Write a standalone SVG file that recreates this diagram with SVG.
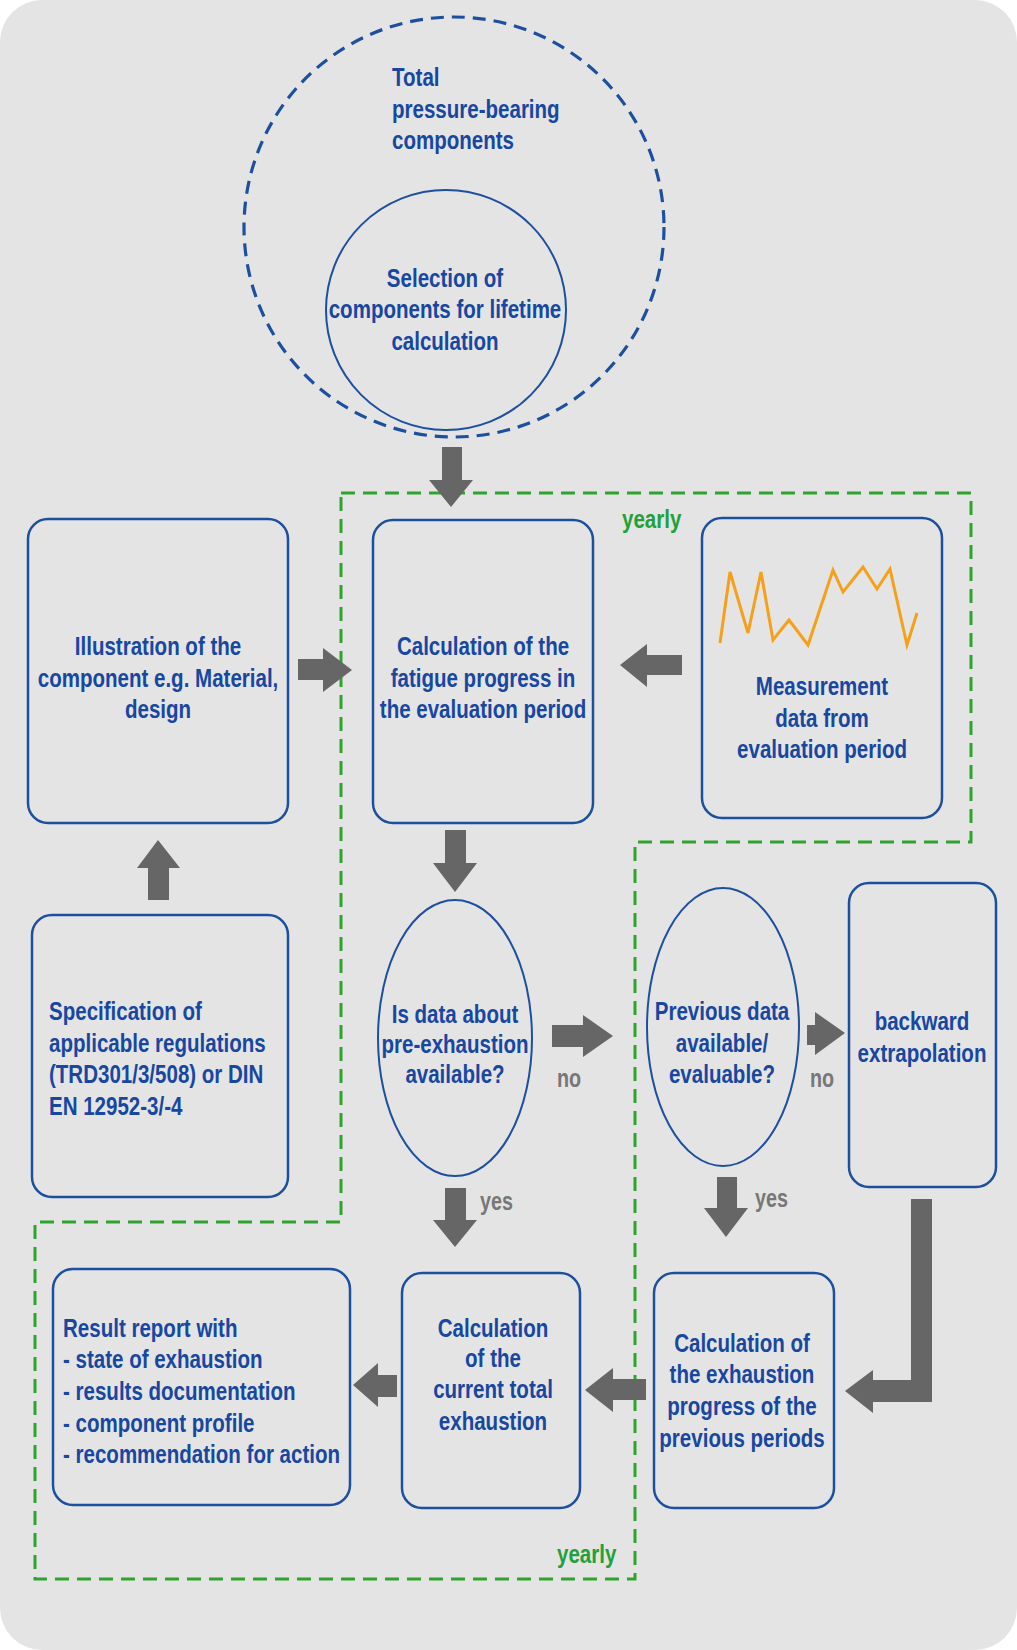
<svg xmlns="http://www.w3.org/2000/svg" width="1017" height="1650" viewBox="0 0 1017 1650">
<style>
.bg{fill:#e4e4e4}
.box{fill:none;stroke:#1d4f9f;stroke-width:2.5}
.ell{fill:none;stroke:#1d4f9f;stroke-width:2}
.t{font-family:"Liberation Sans",Arial,sans-serif;font-weight:bold;font-size:26px;fill:#1747a0}
.c{text-anchor:middle}
.lbl{font-family:"Liberation Sans",Arial,sans-serif;font-weight:bold;font-size:25px;fill:#777}
.yr{font-family:"Liberation Sans",Arial,sans-serif;font-weight:bold;font-size:26px;fill:#22a03a}
.arr{fill:#666}
</style>
<rect class="bg" x="0" y="0" width="1017" height="1650" rx="42"/>

<g id="yearly-loop">
<path d="M341,493 H971 V842 H635 V1579 H35 V1222 H341 Z" fill="none" stroke="#2ea32e" stroke-width="3" stroke-dasharray="14,8"/>
<text class="yr" transform="matrix(0.79 0 0 1 622 528)" x="0" y="0">yearly</text>
<text class="yr" transform="matrix(0.79 0 0 1 557 1563)" x="0" y="0">yearly</text>
</g>

<g id="total">
<circle cx="454" cy="227" r="210" fill="none" stroke="#1d4f9f" stroke-width="3.2" stroke-dasharray="13,8"/>
<text class="t" transform="matrix(0.79 0 0 1 392 0)"><tspan x="0" y="86">Total</tspan><tspan x="0" y="118">pressure-bearing</tspan><tspan x="0" y="149">components</tspan></text>
</g>

<g id="selection">
<circle class="ell" cx="446" cy="310" r="120"/>
<text class="t c" transform="matrix(0.79 0 0 1 445 0)"><tspan x="0" y="287">Selection of</tspan><tspan x="0" y="318">components for lifetime</tspan><tspan x="0" y="350">calculation</tspan></text>
</g>

<g id="illustration">
<rect class="box" x="28" y="519" width="260" height="304" rx="20"/>
<text class="t c" transform="matrix(0.79 0 0 1 158 0)"><tspan x="0" y="655">Illustration of the</tspan><tspan x="0" y="687">component e.g. Material,</tspan><tspan x="0" y="718">design</tspan></text>
</g>

<g id="calc-fatigue">
<rect class="box" x="373" y="520" width="220" height="303" rx="20"/>
<text class="t c" transform="matrix(0.79 0 0 1 483 0)"><tspan x="0" y="655">Calculation of the</tspan><tspan x="0" y="687">fatigue progress in</tspan><tspan x="0" y="718">the evaluation period</tspan></text>
</g>

<g id="measurement">
<rect class="box" x="702" y="518" width="240" height="300" rx="20"/>
<polyline points="720,643 730,572 748,633 761,572 773,640 789,620 808,645 833,570 843,592 863,567 877,589 890,569 907,645 917,613" fill="none" stroke="#f5a01a" stroke-width="3" stroke-linejoin="miter"/>
<text class="t c" transform="matrix(0.79 0 0 1 822 0)"><tspan x="0" y="695">Measurement</tspan><tspan x="0" y="727">data from</tspan><tspan x="0" y="758">evaluation period</tspan></text>
</g>

<g id="specification">
<rect class="box" x="32" y="915" width="256" height="282" rx="20"/>
<text class="t" transform="matrix(0.79 0 0 1 49 0)"><tspan x="0" y="1020">Specification of</tspan><tspan x="0" y="1052">applicable regulations</tspan><tspan x="0" y="1083">(TRD301/3/508) or DIN</tspan><tspan x="0" y="1115">EN 12952-3/-4</tspan></text>
</g>

<g id="pre-exhaustion">
<ellipse class="ell" cx="455" cy="1038" rx="77" ry="138"/>
<text class="t c" transform="matrix(0.79 0 0 1 455 0)"><tspan x="0" y="1023">Is data about</tspan><tspan x="0" y="1053">pre-exhaustion</tspan><tspan x="0" y="1083">available?</tspan></text>
</g>

<g id="previous-data">
<ellipse class="ell" cx="723" cy="1027" rx="76" ry="139"/>
<text class="t c" transform="matrix(0.79 0 0 1 722 0)"><tspan x="0" y="1020">Previous data</tspan><tspan x="0" y="1052">available/</tspan><tspan x="0" y="1083">evaluable?</tspan></text>
</g>

<g id="backward">
<rect class="box" x="849" y="883" width="147" height="304" rx="20"/>
<text class="t c" transform="matrix(0.79 0 0 1 922 0)"><tspan x="0" y="1030">backward</tspan><tspan x="0" y="1062">extrapolation</tspan></text>
</g>

<g id="calc-previous">
<rect class="box" x="654" y="1273" width="180" height="235" rx="20"/>
<text class="t c" transform="matrix(0.79 0 0 1 742 0)"><tspan x="0" y="1352">Calculation of</tspan><tspan x="0" y="1383">the exhaustion</tspan><tspan x="0" y="1415">progress of the</tspan><tspan x="0" y="1447">previous periods</tspan></text>
</g>

<g id="calc-current">
<rect class="box" x="402" y="1273" width="178" height="235" rx="20"/>
<text class="t c" transform="matrix(0.79 0 0 1 493 0)"><tspan x="0" y="1337">Calculation</tspan><tspan x="0" y="1367">of the</tspan><tspan x="0" y="1398">current total</tspan><tspan x="0" y="1430">exhaustion</tspan></text>
</g>

<g id="result">
<rect class="box" x="53" y="1269" width="297" height="236" rx="20"/>
<text class="t" transform="matrix(0.79 0 0 1 63 0)"><tspan x="0" y="1337">Result report with</tspan><tspan x="0" y="1368">- state of exhaustion</tspan><tspan x="0" y="1400">- results documentation</tspan><tspan x="0" y="1432">- component profile</tspan><tspan x="0" y="1463">- recommendation for action</tspan></text>
</g>

<g id="connectors">
<path class="arr" d="M442,447 H462 V480 H473 L451,507 L429,480 H442 Z"/>
<path class="arr" d="M298,659 H323 V648 L352,670 L323,692 V680 H298 Z"/>
<path class="arr" d="M682,655 V675 H647 V687 L620,665 L647,644 V655 Z"/>
<path class="arr" d="M148,900 V868 H137 L158,840 L180,868 H169 V900 Z"/>
<path class="arr" d="M445,830 H466 V863 H477 L455,892 L433,863 H445 Z"/>
<path class="arr" d="M552,1025 H583 V1015 L613,1036 L583,1057 V1047 H552 Z"/>
<path class="arr" d="M807,1025 H815 V1012 L845,1033 L815,1055 V1045 H807 Z"/>
<path class="arr" d="M445,1188 H466 V1220 H477 L455,1247 L433,1220 H445 Z"/>
<path class="arr" d="M717,1177 H737 V1208 H748 L726,1237 L704,1208 H717 Z"/>
<path class="arr" d="M911,1199 H932 V1402 H873 V1413 L845,1391 L873,1370 V1380 H911 Z"/>
<path class="arr" d="M646,1379 V1400 H613 V1412 L585,1390 L613,1368 V1379 Z"/>
<path class="arr" d="M397,1375 V1397 H378 V1407 L353,1385 L378,1363 V1375 Z"/>
<text class="lbl" transform="matrix(0.79 0 0 1 557 1087)" x="0" y="0">no</text>
<text class="lbl" transform="matrix(0.79 0 0 1 810 1087)" x="0" y="0">no</text>
<text class="lbl" transform="matrix(0.79 0 0 1 480 1210)" x="0" y="0">yes</text>
<text class="lbl" transform="matrix(0.79 0 0 1 755 1207)" x="0" y="0">yes</text>
</g>
</svg>
